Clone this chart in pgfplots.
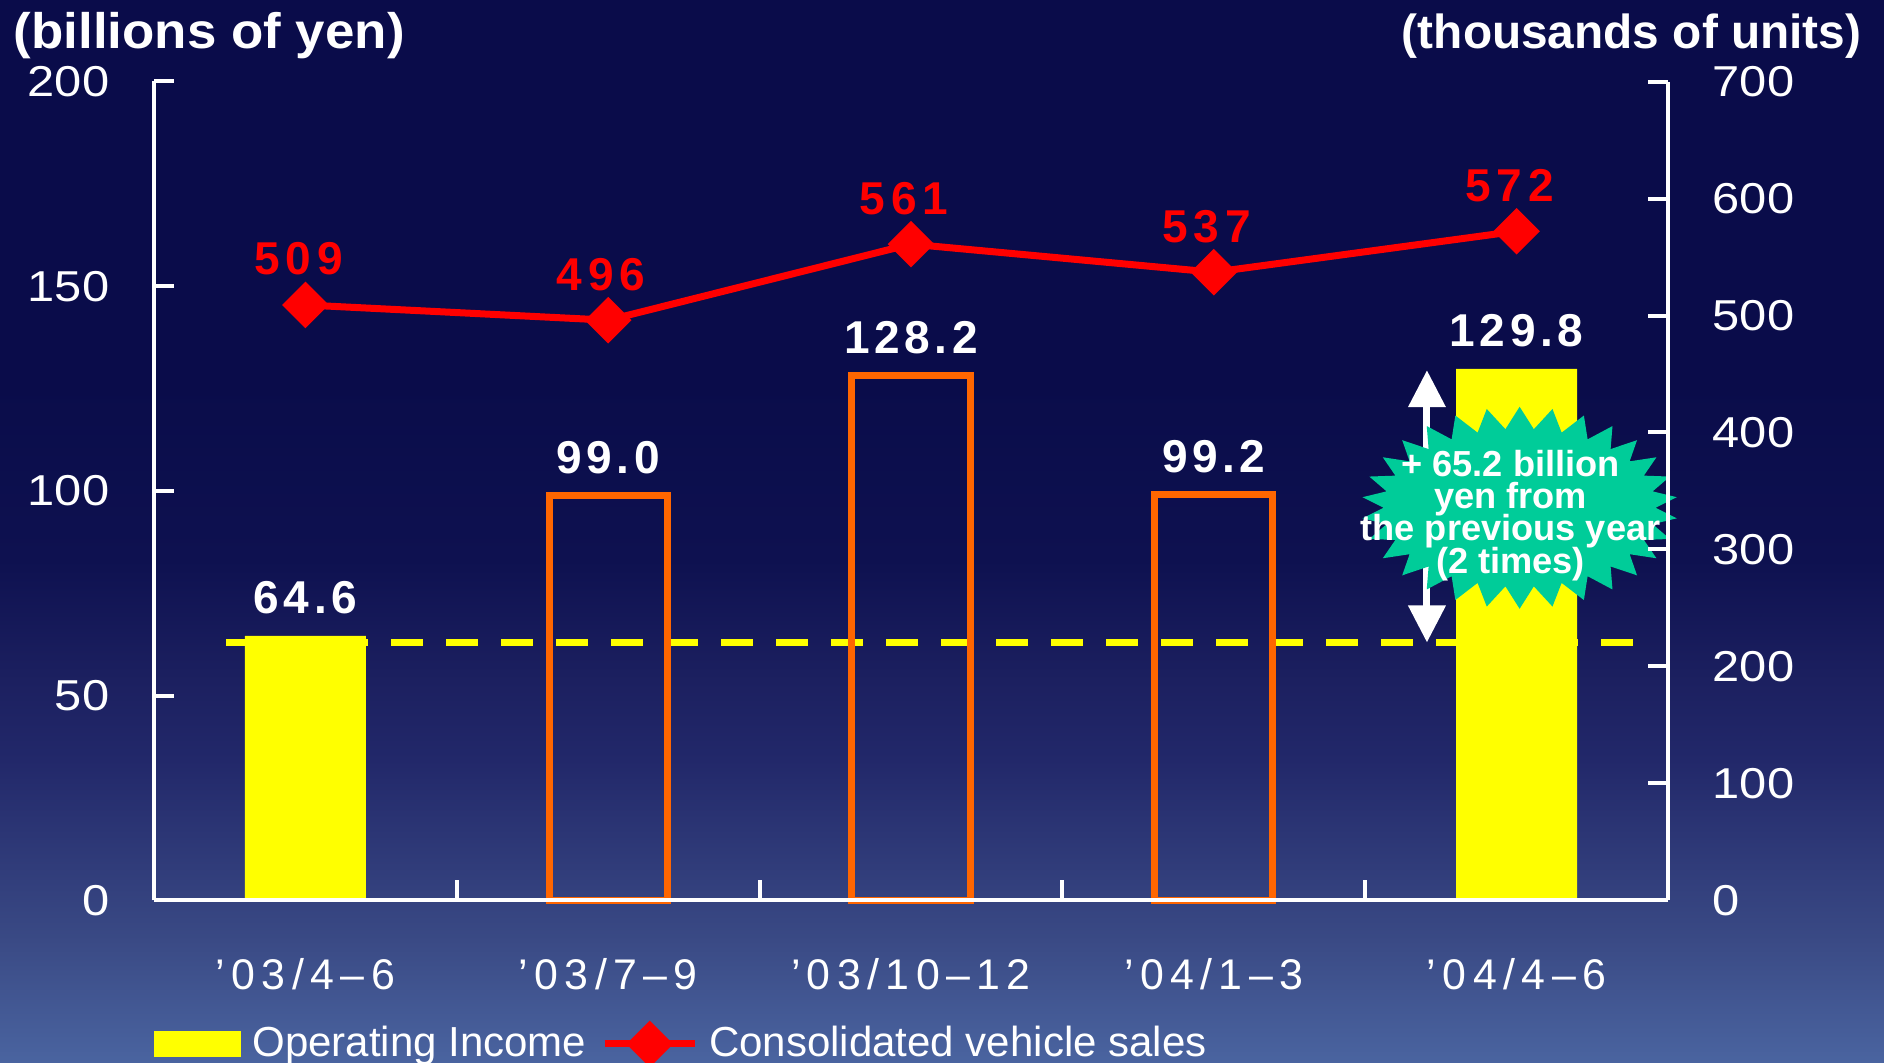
\documentclass[border=0pt]{standalone}
\usepackage{fontspec}
\setmainfont{Liberation Sans}
\newfontfamily\valfont[LetterSpace=10]{Liberation Sans}
\newfontfamily\redfont[LetterSpace=13]{Liberation Sans}
\newfontfamily\catfont[LetterSpace=15]{Liberation Sans}
\usepackage{pgfplots}
\pgfplotsset{compat=1.18}
\usetikzlibrary{shapes.symbols, arrows.meta}

% fixed baseline spacing for the callout text
\newcommand\tightlines{\setlength{\lineskiplimit}{-20pt}\setlength{\lineskip}{0pt}}

% background bands, top to bottom
\definecolor{bgA}{HTML}{0A0C4A}
\definecolor{bgB}{HTML}{0E1150}
\definecolor{bgC}{HTML}{1C2060}
\definecolor{bgD}{HTML}{22286A}
\definecolor{bgE}{HTML}{3A4A85}
\definecolor{bgF}{HTML}{4A64A0}
% series colours
\definecolor{barY}{HTML}{FFFF00}
\definecolor{barO}{HTML}{FF6600}
\definecolor{lineR}{HTML}{FF0000}
\definecolor{burst}{HTML}{00CC99}

\pgfplotsset{
  frame/.style={
    at={(15.4mm,16.25mm)}, anchor=south west,
    scale only axis, width=151.4mm, height=81.9mm,
    xmin=-0.5, xmax=4.5,
    axis line style={white, line width=0.4mm},
    tick align=inside,
    major tick length=2mm,
    tick style={white, line width=0.4mm},
    yticklabel style={font=\fontsize{12.3}{14}\selectfont, text=white, inner sep=0pt, xscale=1.13},
    yticklabel shift=4.4mm,
    /pgf/number format/assume math mode=true,
    clip=false, axis on top,
  },
  barlabels/.style={
    nodes near coords={\pgfmathprintnumber[fixed,fixed zerofill,precision=1]{\pgfplotspointmeta}},
    every node near coord/.style={anchor=base, inner sep=0pt, yshift=2.2mm, text=white,
      font=\valfont\bfseries\fontsize{13.1}{15}\selectfont},
  },
  linelegend/.style={
    legend image code/.code={\draw[mark repeat=2, mark phase=2, ##1]
      plot coordinates {(0mm,0mm) (4.5mm,0mm) (9mm,0mm)};},
  },
  boxlegend/.style={
    legend image code/.code={\fill[barY] (0mm,-1.2mm) rectangle (8.6mm,1.2mm);},
  },
}

\begin{document}
\begin{tikzpicture}
\useasboundingbox (0mm,0mm) rectangle (188.4mm,106.3mm);
\begin{scope}
\clip (0mm,0mm) rectangle (188.4mm,106.3mm);
\fill[bgA] (0mm,68.2mm) rectangle (188.4mm,106.3mm);
\shade[top color=bgA, bottom color=bgB] (0mm,50.2mm) rectangle (188.4mm,68.3mm);
\shade[top color=bgB, bottom color=bgC] (0mm,38.2mm) rectangle (188.4mm,50.3mm);
\shade[top color=bgC, bottom color=bgD] (0mm,30.2mm) rectangle (188.4mm,38.3mm);
\shade[top color=bgD, bottom color=bgE] (0mm,12.2mm) rectangle (188.4mm,30.3mm);
\shade[top color=bgE, bottom color=bgF] (0mm,0mm) rectangle (188.4mm,12.3mm);

% operating income (billions of yen)
\begin{axis}[frame,
  ymin=0, ymax=200,
  axis x line*=bottom, axis y line*=left,
  ytick={0,50,...,200},
  yticklabel style={anchor=east},
  xtick={0.5,1.5,2.5,3.5}, xticklabels={},
  extra x ticks={0,1,2,3,4},
  extra x tick labels={’03/4–6, ’03/7–9, ’03/10–12, ’04/1–3, ’04/4–6},
  extra x tick style={tick style={draw=none}},
  xticklabel style={font=\catfont\fontsize{12.2}{14}\selectfont, text=white, inner sep=0pt, anchor=north},
  xticklabel shift=5.7mm,
]
\addplot[barY, line width=0.7mm, dash pattern=on 3.2mm off 2.3mm]
  coordinates {(-0.262,63) (4.386,63)};
\addplot[ybar, bar width=12.1mm, bar shift=0pt, fill=barY, draw=none, barlabels]
  coordinates {(0,64.6) (4,129.8)};
\addplot[ybar, bar width=11.8mm, bar shift=0pt, draw=barO, line width=0.7mm, fill=none, barlabels]
  coordinates {(1,99.0) (2,128.2) (3,99.2)};
\draw[white, line width=0.7mm, {Triangle[width=3.6mm,length=3.7mm]}-{Triangle[width=3.6mm,length=3.7mm]}]
  (axis cs:3.704,63) -- (axis cs:3.704,129.5);
\node[starburst, starburst points=30, starburst point height=2.2mm, random starburst=0,
  fill=burst, draw=none, minimum width=31.6mm, minimum height=20.2mm, inner sep=0pt]
  at (axis cs:4.01,95.9) {};
\node[text=white, align=center, inner sep=0pt,
  font=\bfseries\fontsize{10.3}{9.2}\selectfont\tightlines]
  at (axis cs:3.98,94.1) {+ 65.2 billion\\yen from\\the previous year\\(2 times)};
\end{axis}

% consolidated vehicle sales (thousands of units)
\begin{axis}[frame,
  ymin=0, ymax=700,
  axis x line=none, axis y line*=right,
  ytick={0,100,...,700},
  yticklabel style={anchor=west},
  legend style={at={(0,0)}, anchor=west, yshift=-14.35mm, draw=none, fill=none,
    inner sep=0pt, outer sep=0pt, legend columns=-1, text=white,
    font=\fontsize{11.95}{13}\selectfont,
    nodes={inner sep=1.1mm},
    /tikz/every even column/.append style={column sep=0.4mm}},
]
\addlegendimage{boxlegend}
\addlegendentry{Operating Income}
\addplot[lineR, line width=0.7mm, mark=square*, mark size=1.3mm,
  mark options={rotate=45, draw=none, fill=lineR}, linelegend,
  nodes near coords={\pgfmathprintnumber[fixed,precision=0]{\pgfplotspointmeta}},
  every node near coord/.style={anchor=base, inner sep=0pt, yshift=3mm, xshift=-0.7mm, text=lineR,
    font=\redfont\bfseries\fontsize{13.1}{15}\selectfont}]
  coordinates {(0,509) (1,496) (2,561) (3,537) (4,572)};
\addlegendentry{Consolidated vehicle sales}
\end{axis}

\node[anchor=west, inner sep=0pt, text=white, xscale=1.06, font=\bfseries\fontsize{14.2}{16}\selectfont]
  at (1.3mm,102.7mm) {(billions of yen)};
\node[anchor=east, inner sep=0pt, text=white, font=\bfseries\fontsize{13.6}{16}\selectfont]
  at (186.2mm,102.7mm) {(thousands of units)};
\end{scope}
\end{tikzpicture}
\end{document}
